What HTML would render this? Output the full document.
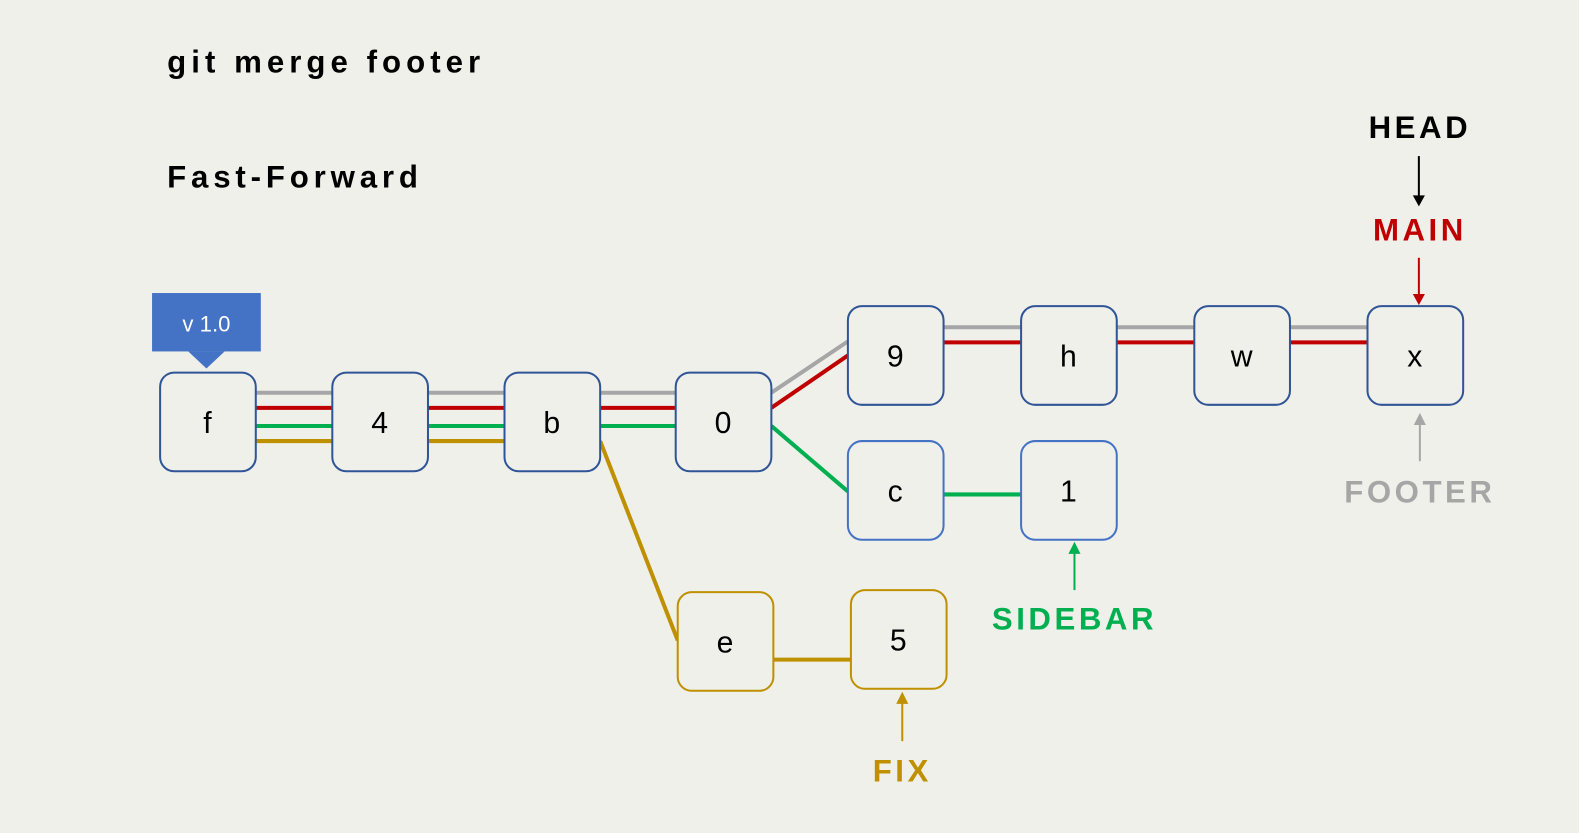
<!DOCTYPE html>
<html><head><meta charset="utf-8"><style>
body{margin:0;background:#f0f0eb;}
svg{display:block}
text{font-family:"Liberation Sans",sans-serif;}
</style></head><body>
<svg width="1579" height="833" viewBox="0 0 1579 833" xmlns="http://www.w3.org/2000/svg">
<rect width="1579" height="833" fill="#f0f0eb"/>
<g transform="scale(1.007)">
<g font-weight="bold" font-size="31">
<text x="166" y="72" fill="#000" letter-spacing="5">git merge footer</text>
<text x="166" y="186" fill="#000" letter-spacing="4.8">Fast-Forward</text>
<g letter-spacing="3.5">
<text x="1410" y="137" fill="#000" text-anchor="middle">HEAD</text>
<text x="1410" y="239" fill="#c00000" text-anchor="middle">MAIN</text>
<text x="1410" y="499" fill="#a6a6a6" text-anchor="middle">FOOTER</text>
<text x="1067" y="625" fill="#00b050" text-anchor="middle">SIDEBAR</text>
<text x="896" y="776" fill="#bf9000" text-anchor="middle">FIX</text>
</g>
</g>
<g stroke-width="4" fill="none">
<line x1="254" y1="390" x2="671" y2="390" stroke="#a6a6a6"/>
<line x1="254" y1="405" x2="671" y2="405" stroke="#c00000"/>
<line x1="254" y1="423" x2="671" y2="423" stroke="#00b050"/>
<line x1="254" y1="438" x2="501" y2="438" stroke="#bf9000"/>
<line x1="766" y1="390" x2="842" y2="339" stroke="#a6a6a6"/>
<line x1="766" y1="405" x2="842" y2="353" stroke="#c00000"/>
<line x1="766" y1="423" x2="842" y2="488" stroke="#00b050"/>
<line x1="596" y1="438" x2="673" y2="636" stroke="#bf9000"/>
<line x1="937" y1="325" x2="1358" y2="325" stroke="#a6a6a6"/>
<line x1="937" y1="340" x2="1358" y2="340" stroke="#c00000"/>
<line x1="937" y1="491" x2="1014" y2="491" stroke="#00b050"/>
<line x1="768" y1="655" x2="845" y2="655" stroke="#bf9000"/>
</g>
<g stroke-width="2" fill="#f0f0eb">
<rect x="159" y="370" width="95" height="98" rx="14" stroke="#2f5597"/>
<rect x="330" y="370" width="95" height="98" rx="14" stroke="#2f5597"/>
<rect x="501" y="370" width="95" height="98" rx="14" stroke="#2f5597"/>
<rect x="671" y="370" width="95" height="98" rx="14" stroke="#2f5597"/>
<rect x="842" y="304" width="95" height="98" rx="14" stroke="#2f5597"/>
<rect x="1014" y="304" width="95" height="98" rx="14" stroke="#2f5597"/>
<rect x="1186" y="304" width="95" height="98" rx="14" stroke="#2f5597"/>
<rect x="1358" y="304" width="95" height="98" rx="14" stroke="#2f5597"/>
<rect x="842" y="438" width="95" height="98" rx="14" stroke="#4472c4"/>
<rect x="1014" y="438" width="95" height="98" rx="14" stroke="#4472c4"/>
<rect x="673" y="588" width="95" height="98" rx="14" stroke="#bf9000"/>
<rect x="845" y="586" width="95" height="98" rx="14" stroke="#bf9000"/>
</g>
<g font-size="30" text-anchor="middle" fill="#000">
<text x="206" y="430">f</text><text x="377" y="430">4</text><text x="548" y="430">b</text><text x="718" y="430">0</text>
<text x="889" y="364">9</text><text x="1061" y="364">h</text><text x="1233" y="364">w</text><text x="1405" y="364">x</text>
<text x="889" y="498">c</text><text x="1061" y="498">1</text>
<text x="720" y="648">e</text><text x="892" y="646">5</text>
</g>
<rect x="151" y="291" width="108" height="58" fill="#4472c4"/>
<polygon points="187,349 223,349 205,366" fill="#4472c4"/>
<text x="205" y="329" font-size="22" fill="#fff" text-anchor="middle">v 1.0</text>
<g stroke-width="2">
<line x1="1409" y1="155" x2="1409" y2="196" stroke="#000"/><polygon points="1403,194 1415,194 1409,205" fill="#000"/>
<line x1="1409" y1="256" x2="1409" y2="294" stroke="#c00000"/><polygon points="1403,292 1415,292 1409,303" fill="#c00000"/>
<line x1="1410" y1="458" x2="1410" y2="420" stroke="#a6a6a6"/><polygon points="1404,422 1416,422 1410,410" fill="#a6a6a6"/>
<line x1="1067" y1="586" x2="1067" y2="548" stroke="#00b050"/><polygon points="1061,550 1073,550 1067,538" fill="#00b050"/>
<line x1="896" y1="736" x2="896" y2="697" stroke="#bf9000"/><polygon points="890,699 902,699 896,687" fill="#bf9000"/>
</g>
</g>
</svg>
</body></html>
